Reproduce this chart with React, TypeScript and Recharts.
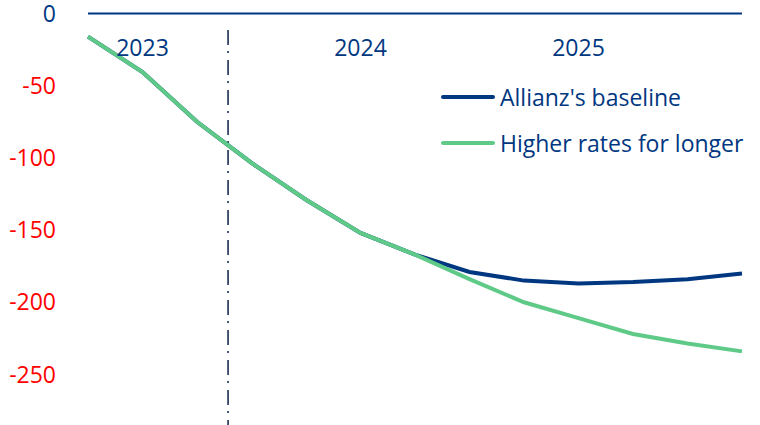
import React from "react";
import { LineChart, Line, XAxis, YAxis, ReferenceLine, Legend } from "recharts";

const periods = [
  "2022Q4", "2023Q1", "2023Q2", "2023Q3", "2023Q4",
  "2024Q1", "2024Q2", "2024Q3", "2024Q4",
  "2025Q1", "2025Q2", "2025Q3", "2025Q4",
];
const baseline = [-16, -40.5, -75, -103.5, -129, -152, -167, -179, -185, -187, -186, -184, -180];
const higherRates = [-16, -40.5, -75, -103.5, -129, -152, -167, -184, -200, -211, -222, -228.5, -234];
const yTicks = [0, -50, -100, -150, -200, -250];
const yearTicks = [1, 5, 9];
const forecastStart = 2.57;

const BLUE = "#003781";
const GREEN = "#5fca87";
const FONT = "'Open Sans', sans-serif";

const data = periods.map((p, i) => ({ i, period: p, baseline: baseline[i], higher: higherRates[i] }));

const YTick = (props: any) => {
  const { x, y, payload } = props;
  return (
    <text x={x} y={y} dy="0.355em" textAnchor="end" fontSize={23} fontFamily={FONT}
      fill={payload.value === 0 ? BLUE : "#ff0000"}>
      {payload.value}
    </text>
  );
};

const XTick = (props: any) => {
  const { x, y, payload } = props;
  return (
    <text x={x} y={y} dy={42} textAnchor="middle" fontSize={23} fontFamily={FONT} fill={BLUE}>
      {periods[payload.value].slice(0, 4)}
    </text>
  );
};

const LegendContent = () => {
  const items = [
    { label: "Allianz's baseline", color: BLUE },
    { label: "Higher rates for longer", color: GREEN },
  ];
  return (
    <div style={{ fontFamily: FONT, fontSize: 23, color: BLUE }}>
      {items.map((it) => (
        <div key={it.label} style={{ height: 46, display: "flex", alignItems: "center", whiteSpace: "nowrap" }}>
          <span style={{ display: "inline-block", width: 54, height: 4, borderRadius: 2, background: it.color, marginRight: 5 }} />
          <span>{it.label}</span>
        </div>
      ))}
    </div>
  );
};

export default function App() {
  return (
    <div style={{ position: "absolute", left: 0, top: 0, width: 760, height: 425, background: "#fff" }}>
      <LineChart width={760} height={425} data={data} margin={{ top: 0, right: 18, bottom: 0, left: 0 }}>
        <XAxis
          type="number"
          dataKey="i"
          domain={[0, 12]}
          ticks={yearTicks}
          orientation="top"
          height={13.5}
          tickLine={false}
          tickSize={0}
          tickMargin={0}
          axisLine={{ stroke: BLUE, strokeWidth: 2 }}
          tick={<XTick />}
          interval={0}
        />
        <YAxis
          type="number"
          domain={[-285, 0]}
          ticks={yTicks}
          width={88}
          tickLine={false}
          axisLine={false}
          tickSize={0}
          tickMargin={32}
          tick={<YTick />}
          interval={0}
        />
        <ReferenceLine
          segment={[{ x: forecastStart, y: -11.5 }, { x: forecastStart, y: -285 }]}
          stroke="#0d2147"
          strokeWidth={1.5}
          strokeDasharray="15 6 2 7"
        />
        <Line type="linear" dataKey="baseline" name="Allianz's baseline" stroke={BLUE} strokeWidth={4} dot={false} isAnimationActive={false} />
        <Line type="linear" dataKey="higher" name="Higher rates for longer" stroke={GREEN} strokeWidth={4} dot={false} isAnimationActive={false} />
        <Legend
          layout="horizontal"
          verticalAlign="middle"
          align="center"
          content={<LegendContent />}
          wrapperStyle={{ position: "absolute", top: 74, left: 441, width: "auto", height: "auto" }}
        />
      </LineChart>
    </div>
  );
}
